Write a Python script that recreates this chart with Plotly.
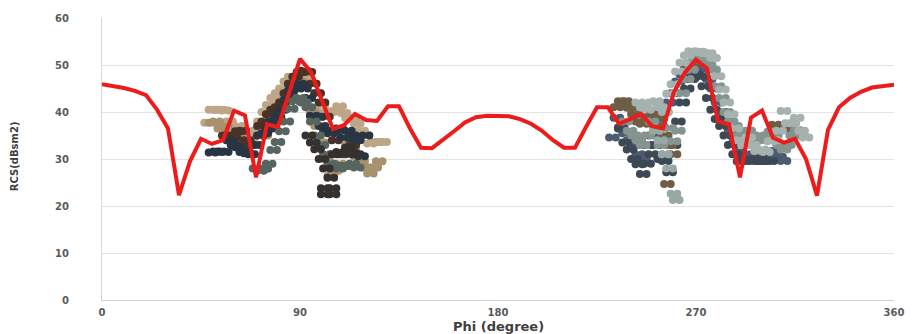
import plotly.graph_objects as go

# ---- Red reference curve (Phi in degrees, RCS in dBsm) ----
PHI = [0, 5, 10, 15, 20, 25, 30, 35, 40, 45, 50, 55, 60, 65, 70, 75, 80, 85, 90, 95,
       100, 105, 110, 115, 120, 125, 130, 135, 140, 145, 150, 155, 160, 165, 170, 175, 180,
       185, 190, 195, 200, 205, 210, 215, 220, 225, 230, 235, 240, 245, 250, 255, 260, 265,
       270, 275, 280, 285, 290, 295, 300, 305, 310, 315, 320, 325, 330, 335, 340, 345, 350, 355, 360]
RCS = [45.9, 45.6, 45.1, 44.5, 43.6, 40.5, 36.5, 22.3, 29.5, 34.3, 33.2, 34.0, 40.3, 39.3, 26.1, 37.4,
       36.8, 44.0, 51.3, 48.5, 42.5, 36.4, 37.2, 39.6, 38.3, 38.1, 41.2, 41.2, 36.5, 32.4, 32.3, 34.0,
       35.9, 37.8, 38.9, 39.2, 39.2, 39.1, 38.5, 37.5, 36.0, 34.0, 32.4, 32.4, 36.8, 41.0, 41.0, 37.5,
       38.5, 39.6, 37.0, 36.5, 44.3, 48.4, 51.1, 49.3, 38.0, 37.4, 26.1, 38.8, 40.3, 34.5, 33.5, 34.3,
       30.0, 22.2, 36.2, 41.0, 43.0, 44.3, 45.2, 45.6, 45.8]

# ---- Measured scatter series, left lobe ----
L_TAN_A_X = [48, 50, 52, 54, 56, 58, 60, 62, 64, 66, 68, 70, 72, 74, 76, 78, 80, 82, 84, 86, 88,
             90, 92, 94, 96, 98, 100, 102, 104, 106, 108, 110, 112, 114, 116, 118, 120, 122, 124, 126, 128]
L_TAN_A_Y = [37.7, 40.5, 40.5, 40.5, 40.3, 38, 36.6, 37, 36, 35, 34.5, 36, 38, 40, 41.5, 43, 44, 45,
             46.5, 47.5, 47.5, 47.8, 48, 47, 46, 44, 41.5, 40, 40, 40.2, 41.2, 39.8, 38.7, 38.5, 37.5,
             36, 35, 33.3, 33.6, 33.6, 33.6]
L_TAN_B_X = [50, 52, 54, 56, 58, 60, 62, 64, 74, 76, 78, 80, 82, 84, 86, 88, 90, 92, 94, 96, 98,
             100, 102, 104, 106, 108, 110, 112, 114, 116, 118, 120, 122, 124, 126]
L_TAN_B_Y = [37.7, 38, 36.5, 37, 35.5, 34, 35, 33, 35, 37, 39, 40.5, 42, 43.5, 45.5, 46, 46.5, 45.5,
             43, 40, 37, 33.5, 30, 26.4, 27.5, 29, 31, 33, 32, 30.5, 29.5, 28.2, 26.9, 28.2, 29.5]
L_BROWN_X = [56, 58, 60, 62, 64, 66, 68, 72, 74, 76, 78, 80, 82, 84, 86, 88, 90, 92, 94, 96, 98,
             100, 102, 104, 106, 108, 110, 112, 114]
L_BROWN_Y = [35, 35, 34.5, 35.9, 36, 34, 33, 37, 38, 39.5, 40.5, 41, 42, 44, 46, 47.5, 48.5, 48.8, 48.5,
             46, 44, 42, 39, 36, 34, 31, 28.5, 31, 33]
L_NAVY_X = [50, 52, 54, 56, 58, 60, 62, 64, 66, 68, 70, 72, 74, 76, 78, 80, 82, 84, 86, 88, 90, 92,
            94, 96, 98, 100, 102, 104, 106, 108, 110, 112, 114, 116, 118, 120]
L_NAVY_Y = [31.4, 31.6, 31.6, 31.5, 34, 33, 32.5, 31.5, 31.2, 31, 33, 35, 35.5, 36.5, 38, 39, 40.5,
            42.5, 44.5, 45.5, 46, 45, 43, 39.2, 39, 37, 36, 35.5, 36, 36.5, 34.5, 36, 35, 34, 30.6, 35]
L_DARK_X = [94, 96, 98, 100, 101, 102, 104, 105, 101, 105, 106, 108, 110, 112, 114, 116]
L_DARK_Y = [35, 33.5, 32.1, 30, 23.8, 28, 26, 23.8, 22.5, 22.5, 31, 31.5, 31.3, 32.4, 31.3, 31]
L_GREEN_X = [70, 72, 74, 76, 78, 80, 82, 84, 86, 88, 90, 92, 94, 96, 98, 100, 102, 104, 106, 108,
             110, 112, 114, 116]
L_GREEN_Y = [28, 27.5, 27.9, 29, 31.9, 33.6, 35.9, 38, 40.7, 42.3, 43, 42, 41, 38, 35, 33, 31, 29,
             28.5, 28, 28.5, 28.5, 29, 28.2]

# ---- Measured scatter series, right lobe ----
R_SLATE_X = [232, 234, 236, 238, 240, 242, 244, 246, 248, 250, 252, 254, 256, 258, 260, 262, 264,
             266, 268, 270, 272, 274, 276, 278, 280, 282, 284, 286, 288, 290, 292, 294, 296, 298,
             300, 302, 304, 306, 308, 310]
R_SLATE_Y = [34.6, 38.8, 36.7, 35.5, 34, 33, 31, 30, 33, 35, 37, 38.5, 40, 42, 44, 46.5, 48, 49.5,
             50.5, 50.5, 50, 49, 47, 45, 42, 40, 38, 36, 33.5, 31.5, 30, 30.5, 31, 30, 29.6, 31, 31.5,
             31.7, 30.5, 29.6]
R_DARK_X = [236, 238, 240, 242, 244, 246, 248, 250, 252, 254, 256, 258, 260, 262, 264, 266, 268,
            270, 272, 274, 276, 278, 280, 282, 284, 286, 288, 290, 292, 294, 296, 298, 300, 302, 304]
R_DARK_Y = [36.5, 33.5, 32, 30, 28.9, 26.8, 29, 31, 33, 30, 29.6, 27.2, 33, 38, 42, 45, 47, 48, 47.5,
            45.5, 43, 40.5, 38.5, 37, 35, 33, 31, 29.5, 29.6, 30, 29.6, 29.6, 30, 29.6, 29.6]
R_OLIVE_X = [234, 236, 238, 240, 242, 244, 246, 248, 250, 252, 254, 256, 257, 258, 260, 268, 306,
             308, 310, 312]
R_OLIVE_Y = [41, 42.3, 42.3, 40.9, 39.5, 38, 37.5, 39, 40.2, 39, 37, 35, 24.7, 33, 31, 49.7, 37.3,
             37, 36.5, 37.3]
R_GREY_X = [238, 240, 242, 244, 246, 248, 250, 252, 254, 256, 258, 260, 262, 264, 266, 268, 270,
            272, 274, 276, 278, 280, 282, 284, 286, 288, 290, 292, 294, 296, 298, 300, 302, 304,
            306, 308, 310, 312, 314, 316, 318]
R_GREY_Y = [38, 36, 35, 34, 33, 35, 38, 36, 33, 31, 36.6, 33.8, 36, 44, 47, 49, 51, 51.5, 51, 50, 49,
            45.5, 43, 40, 38, 37, 35, 35.5, 36, 35, 34, 34, 35, 35.8, 35, 33, 32, 33, 35, 36.1, 35]
R_LIGHT_X = [244, 246, 248, 250, 252, 254, 256, 258, 260, 262, 264, 266, 268, 270, 272, 274, 276,
             278, 280, 282, 284, 286, 288, 290, 292, 294, 296, 298, 300, 302, 304, 306, 308, 310,
             312, 314, 316, 318, 320]
R_LIGHT_Y = [42, 41, 40.5, 42, 42.3, 41, 40, 43.9, 45.9, 48.6, 50.5, 52, 52.9, 52.8, 52.8, 52.5, 52.5,
             51.5, 47.6, 44.8, 42, 39.5, 36.5, 34, 33, 34.6, 33, 31.7, 32, 31.5, 33.8, 34, 36, 40.2,
             37.6, 37.6, 38.8, 36, 34.6]
R_LIGHT2_X = [252, 254, 256, 258, 260, 261]
R_LIGHT2_Y = [36, 34, 31, 28, 22.6, 21.3]

X_TICKS = [0, 90, 180, 270, 360]
Y_TICKS = [0, 10, 20, 30, 40, 50, 60]

SERIES = [
    (L_TAN_A_X, L_TAN_A_Y, "#bca687"),
    (L_TAN_B_X, L_TAN_B_Y, "#a8916f"),
    (L_BROWN_X, L_BROWN_Y, "#4a3226"),
    (L_NAVY_X, L_NAVY_Y, "#2a3543"),
    (L_GREEN_X, L_GREEN_Y, "#56655f"),
    (L_DARK_X, L_DARK_Y, "#35312f"),
    (R_SLATE_X, R_SLATE_Y, "#4d5b72"),
    (R_DARK_X, R_DARK_Y, "#3c4854"),
    (R_OLIVE_X, R_OLIVE_Y, "#6e5e45"),
    (R_GREY_X, R_GREY_Y, "#86948f"),
    (R_LIGHT_X, R_LIGHT_Y, "#a5b2b0"),
    (R_LIGHT2_X, R_LIGHT2_Y, "#98a8a5"),
]

HALF_W = 1.5   # horizontal half-stretch of the elongated markers (style, degrees)

fig = go.Figure()
for xs, ys, col in SERIES:
    # each point drawn as an elongated blob: two overlapping dots left/right of the value
    bx = [x - HALF_W for x in xs] + [x + HALF_W for x in xs]
    by = list(ys) + list(ys)
    fig.add_trace(go.Scatter(x=bx, y=by, mode="markers",
                             marker=dict(symbol="circle", size=8, color=col, line=dict(width=0)),
                             showlegend=False, hoverinfo="skip"))

fig.add_trace(go.Scatter(x=PHI, y=RCS, mode="lines",
                         line=dict(color="#ec1c1c", width=4),
                         showlegend=False))

tickfont = dict(family="DejaVu Sans", size=10, color="#5a5a5a", weight="bold")

fig.update_layout(
    width=917, height=334,
    margin=dict(l=102, r=23, t=16, b=34),
    paper_bgcolor="white", plot_bgcolor="white",
    xaxis=dict(range=[0, 360], tickvals=X_TICKS, ticktext=[str(v) for v in X_TICKS],
               showgrid=False, zeroline=False, showline=True, linecolor="#d0d0d0", linewidth=1,
               ticks="", tickfont=tickfont, ticklabelstandoff=3),
    yaxis=dict(range=[0, 60], tickvals=Y_TICKS, ticktext=[str(v) for v in Y_TICKS],
               showgrid=True, gridcolor="#e3e3e3", gridwidth=1, zeroline=False,
               showline=True, linecolor="#d6d6d6", linewidth=1,
               ticks="", tickfont=tickfont, ticklabelstandoff=30),
    annotations=[
        dict(text="Phi (degree)", xref="paper", yref="paper", x=0.5, y=0, yshift=-26,
             xanchor="center", yanchor="middle", showarrow=False,
             font=dict(family="DejaVu Sans", size=13, color="#404040", weight="bold")),
        dict(text="RCS(dBsm2)", xref="paper", yref="paper", x=0, xshift=-88, y=0.51,
             xanchor="center", yanchor="middle", textangle=-90, showarrow=False,
             font=dict(family="DejaVu Sans", size=10, color="#404040", weight="bold")),
    ],
)

fig.write_html("out.html")
